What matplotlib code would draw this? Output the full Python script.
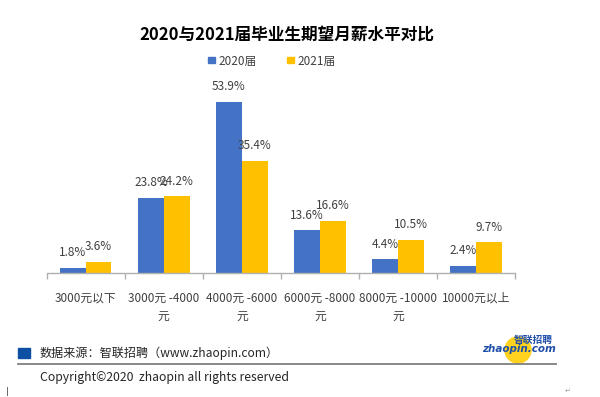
import matplotlib
matplotlib.use("Agg")
import matplotlib.pyplot as plt
from matplotlib.patches import Rectangle, Ellipse
from matplotlib.lines import Line2D
import numpy as np

plt.rcParams['font.family'] = ['Noto Sans CJK SC', 'DejaVu Sans']

categories = ["3000元以下", "3000元 -4000\n元", "4000元 -6000\n元",
              "6000元 -8000\n元", "8000元 -10000\n元", "10000元以上"]
series_names = ["2020届", "2021届"]
values_2020 = [1.8, 23.8, 53.9, 13.6, 4.4, 2.4]
values_2021 = [3.6, 24.2, 35.4, 16.6, 10.5, 9.7]

title = "2020与2021届毕业生期望月薪水平对比"
source_text = "数据来源：智联招聘（www.zhaopin.com）"
copyright_text = "Copyright©2020  zhaopin all rights reserved"

c2020 = "#4472C4"
c2021 = "#FFC000"
W, H = 600, 397

def fx(x):
    return x / W

def fy(y):
    return 1 - y / H

fig = plt.figure(figsize=(6, 3.97), dpi=100)
ax = fig.add_axes([fx(46.7), fy(273.3), fx(515) - fx(46.7), fy(82.5) - fy(273.3)])

x = np.arange(len(categories))
bw = 0.33
b1 = ax.bar(x - bw / 2, values_2020, bw, color=c2020, edgecolor='none')
b2 = ax.bar(x + bw / 2, values_2021, bw, color=c2021, edgecolor='none')

for bars, vals in ((b1, values_2020), (b2, values_2021)):
    for r, v in zip(bars, vals):
        ax.annotate(f"{v:.1f}%", (r.get_x() + r.get_width() / 2, r.get_height()),
                    xytext=(0, 15), textcoords='offset pixels',
                    ha='center', va='center', fontsize=8.5, color='#404040')

ax.set_xlim(-0.5, len(categories) - 0.5)
ax.set_ylim(0, 60)
ax.set_yticks([])
for s in ('top', 'right', 'left'):
    ax.spines[s].set_visible(False)
ax.spines['bottom'].set_color('#B0B0B0')
ax.spines['bottom'].set_linewidth(1)

ax.set_xticks(np.arange(-0.5, len(categories), 1.0))
ax.set_xticklabels([])
ax.tick_params(axis='x', which='major', length=4, color='#B0B0B0', width=1)
ax.set_xticks(x, minor=True)
ax.set_xticklabels(categories, minor=True, fontsize=8.5, color='#404040',
                   linespacing=1.5, va='top')
ax.tick_params(axis='x', which='minor', length=0, pad=13)

# title
fig.text(fx(287), fy(35), title, ha='center', va='center',
         fontsize=12, fontweight='bold', color='#000000')

# legend
fig.patches.append(Rectangle((fx(208), fy(62.7)), fx(7), fy(56.7) - fy(62.7),
                             transform=fig.transFigure, color=c2020))
fig.text(fx(218), fy(61), series_names[0], ha='left', va='center',
         fontsize=8.5, color='#404040')
fig.patches.append(Rectangle((fx(287), fy(62.7)), fx(7), fy(56.7) - fy(62.7),
                             transform=fig.transFigure, color=c2021))
fig.text(fx(297), fy(61), series_names[1], ha='left', va='center',
         fontsize=8.5, color='#404040')

# footer
fig.patches.append(Rectangle((fx(18), fy(358)), fx(12), fy(347.7) - fy(358),
                             transform=fig.transFigure, color='#0D4FA3'))
fig.text(fx(40), fy(353), source_text, ha='left', va='center',
         fontsize=8.7, color='#262626')
fig.lines.append(Line2D([fx(18), fx(556)], [fy(363.5), fy(363.5)],
                        transform=fig.transFigure, color='#7F7F7F', linewidth=1.3))
fig.text(fx(40), fy(377), copyright_text, ha='left', va='center',
         fontsize=8.8, color='#262626')

# logo
fig.patches.append(Ellipse((fx(518), fy(350)), fx(26), fy(337) - fy(363),
                           transform=fig.transFigure, color='#FFD21F'))
fig.text(fx(533), fy(340), "智联招聘", ha='center', va='center', fontsize=7,
         fontweight='bold', style='italic', color='#1F4FA8')
fig.text(fx(519), fy(349), "zhaopin.com", ha='center', va='center', fontsize=7.5,
         fontweight='bold', style='italic', color='#1F4FA8',
         family=['DejaVu Sans'])

fig.text(fx(568), fy(391), "↵", ha='center', va='center', fontsize=5,
         color='#A0A0A0', family=['DejaVu Sans'])
fig.text(fx(7), fy(392), "|", ha='center', va='center', fontsize=6,
         color='#404040', family=['DejaVu Sans'])

fig.savefig("out.png", dpi=100)
